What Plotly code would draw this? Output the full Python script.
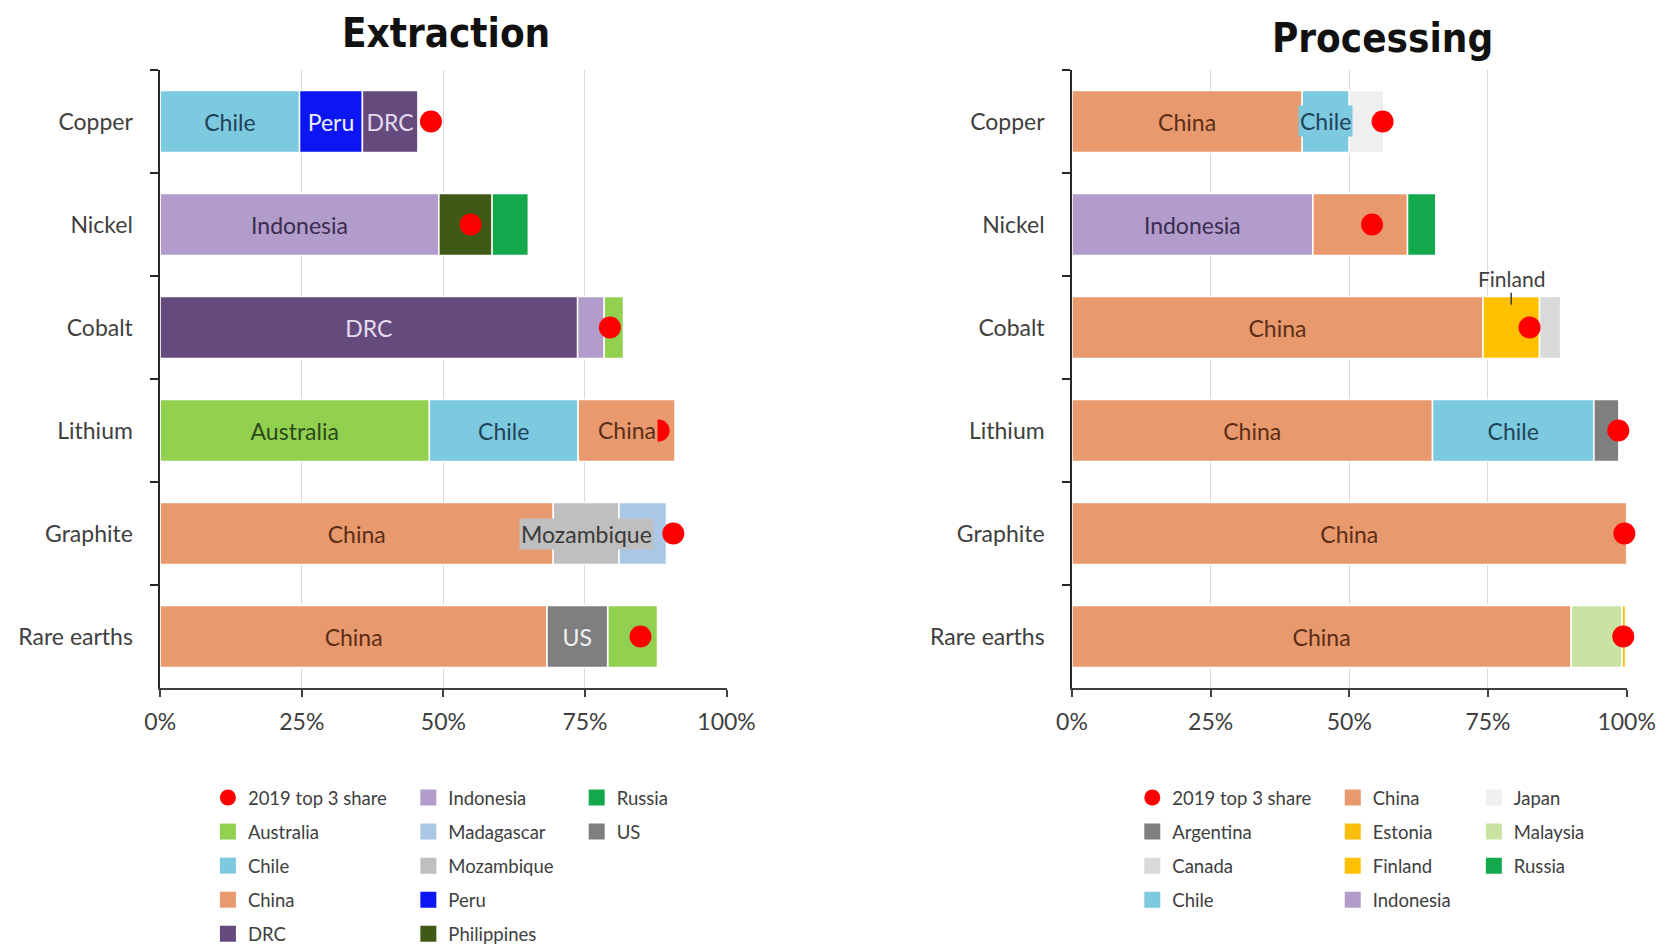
import plotly.graph_objects as go

# ---------------- data ----------------
minerals = ["Copper", "Nickel", "Cobalt", "Lithium", "Graphite", "Rare earths"]

ext_countries = [["Chile", "Peru", "DRC"],
                 ["Indonesia", "Philippines", "Russia"],
                 ["DRC", "Indonesia", "Australia"],
                 ["Australia", "Chile", "China"],
                 ["China", "Mozambique", "Madagascar"],
                 ["China", "US", "Australia"]]
ext_shares = [[24.6, 11.1, 9.8],
              [49.2, 9.4, 6.4],
              [73.7, 4.7, 3.4],
              [47.5, 26.3, 17.1],
              [69.4, 11.6, 8.4],
              [68.3, 10.7, 8.8]]
# 1 = label in bar, 2 = label box over bar, 3 = label above bar, 0 = none
ext_labelled = [[1, 1, 1], [1, 0, 0], [1, 0, 0], [1, 1, 2], [1, 2, 0], [1, 1, 0]]
ext_top3_2019 = [47.8, 54.8, 79.4, 88.0, 90.6, 84.8]

proc_countries = [["China", "Chile", "Japan"],
                  ["Indonesia", "China", "Russia"],
                  ["China", "Finland", "Canada"],
                  ["China", "Chile", "Argentina"],
                  ["China"],
                  ["China", "Malaysia", "Estonia"]]
proc_shares = [[41.5, 8.5, 6.2],
               [43.4, 17.1, 5.1],
               [74.1, 10.2, 3.8],
               [65.0, 29.1, 4.5],
               [100.0],
               [90.0, 9.2, 0.6]]
proc_labelled = [[1, 2, 0], [1, 0, 0], [1, 3, 0], [1, 1, 0], [1], [1, 0, 0]]
proc_top3_2019 = [56.0, 54.1, 82.5, 98.5, 99.6, 99.4]

x_ticks = [0, 25, 50, 75, 100]
x_ticktext = ["0%", "25%", "50%", "75%", "100%"]
dot_name = "2019 top 3 share"
titles = ["Extraction", "Processing"]

# ---------------- styles ----------------
colors = {"Chile": "#7dc9df", "Peru": "#0b16f2", "DRC": "#644a7d", "Indonesia": "#b19ccb",
          "Philippines": "#3e5a16", "Russia": "#13a84b", "Australia": "#92d050",
          "China": "#e8996d", "Mozambique": "#bfbfbf", "Madagascar": "#aac7e6",
          "US": "#7f7f7f", "Japan": "#efefef", "Argentina": "#7f7f7f", "Canada": "#d9d9d9",
          "Estonia": "#f9bd0c", "Finland": "#ffc000", "Malaysia": "#c8e3a2"}
text_colors = {"Chile": "#1f4457", "Peru": "#eef0ff", "DRC": "#e4dcee", "Indonesia": "#3b2d4f",
               "Australia": "#2c4a1a", "China": "#5c2e18", "US": "#f2f2f2",
               "Mozambique": "#3a3a3a", "Finland": "#404040"}
FONT = "Lato, 'Noto Sans', sans-serif"
TITLE_FONT = "'Liberation Sans Narrow', 'DejaVu Sans Condensed', sans-serif"
W, H = 1670, 945
TXT = 23

fig = go.Figure()
annotations = []


def add_panel(countries, shares, labelled, top3, xa, ya, legends, prefix, rows):
    seg = {}
    for mi, (m, cs, ss, ls) in enumerate(zip(minerals, countries, shares, labelled)):
        start = 0.0
        for c, s, l in zip(cs, ss, ls):
            d = seg.setdefault(c, {"y": [], "x": [], "base": [], "text": []})
            d["y"].append(m)
            d["x"].append(s)
            d["base"].append(start)
            d["text"].append(c if l == 1 else "")
            if l == 2:
                annotations.append(dict(x=start + s / 2, y=m, xref=xa, yref=ya, text=c,
                                        showarrow=False, bgcolor=colors[c], borderpad=1,
                                        xanchor="center", yanchor="middle",
                                        font=dict(family=FONT, size=TXT, color=text_colors.get(c, "#333"))))
            if l == 3:
                annotations.append(dict(x=start + s / 2, y=mi - 0.22, xref=xa, yref=ya, text=c,
                                        showarrow=True, arrowhead=0, arrowwidth=1.5,
                                        arrowcolor="#404040", ax=0, ay=-12,
                                        xanchor="center", yanchor="bottom",
                                        font=dict(family=FONT, size=21, color="#404040")))
            start += s
    for c, d in seg.items():
        fig.add_trace(go.Bar(
            orientation="h", y=d["y"], x=d["x"], base=d["base"], text=d["text"],
            textposition="inside", insidetextanchor="middle", textangle=0,
            textfont=dict(family=FONT, size=TXT, color=text_colors.get(c, "#333")),
            marker=dict(color=colors[c], line=dict(color="white", width=1.5)),
            width=0.6, xaxis=xa, yaxis=ya, showlegend=False, name=c, hoverinfo="x+name"))
    # dots
    fig.add_trace(go.Scatter(
        x=top3, y=minerals, mode="markers", name=dot_name, cliponaxis=False,
        marker=dict(color="#ff0000", size=22), xaxis=xa, yaxis=ya,
        legend=legends[0], legendgroup=prefix + "dot", legendrank=1, showlegend=True))
    # legend entries (alphabetical, column by column)
    names = sorted(seg.keys())
    items = [dot_name] + names
    for i, c in enumerate(items):
        if i == 0:
            continue
        fig.add_trace(go.Scatter(
            x=[None], y=[None], mode="markers", name=c,
            marker=dict(symbol="square", size=16, color=colors[c]),
            xaxis=xa, yaxis=ya, legend=legends[i // rows],
            legendgroup=prefix + c, legendrank=i + 1, showlegend=True))


add_panel(ext_countries, ext_shares, ext_labelled, ext_top3_2019, "x", "y",
          ["legend", "legend2", "legend3"], "ext_", 5)
add_panel(proc_countries, proc_shares, proc_labelled, proc_top3_2019, "x2", "y2",
          ["legend4", "legend5", "legend6"], "proc_", 4)

# titles
annotations.append(dict(x=434 / W, y=1.0, xref="paper", yref="paper", text=titles[0],
                        showarrow=False, xanchor="center", yanchor="top",
                        font=dict(family=TITLE_FONT, size=40, color="#111", weight=700)))
annotations.append(dict(x=1396 / W, y=1 - 5 / H, xref="paper", yref="paper", text=titles[1],
                        showarrow=False, xanchor="center", yanchor="top",
                        font=dict(family=TITLE_FONT, size=40, color="#111", weight=700)))

ydom = [1 - 680 / H, 1 - 62 / H]


def xaxis_style(dom, anchor):
    return dict(domain=dom, range=[0, 100], tickmode="array", tickvals=x_ticks, ticktext=x_ticktext,
                showgrid=True, gridcolor="#d9d9d9", gridwidth=1, zeroline=False,
                showline=True, linecolor="#404040", linewidth=1.5,
                ticks="outside", ticklen=7, tickcolor="#404040", tickwidth=1.5,
                tickfont=dict(family=FONT, size=TXT, color="#404040"),
                ticklabelstandoff=6, anchor=anchor, fixedrange=True)


def yaxis_style(anchor):
    return dict(domain=ydom, type="category", categoryorder="array", categoryarray=minerals,
                range=[5.5, -0.5], tickson="boundaries", ticks="outside", ticklen=8,
                tickcolor="#262626", tickwidth=1.5, showline=True, linecolor="#262626",
                linewidth=1.5, showgrid=False, zeroline=False,
                tickfont=dict(family=FONT, size=TXT, color="#404040"),
                ticklabelstandoff=21, anchor=anchor, fixedrange=True)


def legend_style(xpx, ypx):
    return dict(x=xpx / W, y=1 - ypx / H, xanchor="left", yanchor="top",
                orientation="v", bgcolor="rgba(0,0,0,0)", borderwidth=0,
                tracegroupgap=7, font=dict(family=FONT, size=18.5, color="#404040"),
                itemclick=False, itemdoubleclick=False)


LEG_TOP = 771
fig.update_layout(
    width=W, height=H, margin=dict(l=0, r=0, t=0, b=0),
    paper_bgcolor="white", plot_bgcolor="white",
    barmode="overlay", showlegend=True,
    uniformtext=dict(mode="show", minsize=TXT),
    xaxis=xaxis_style([140 / W, 722 / W], "y"),
    yaxis=yaxis_style("x"),
    xaxis2=xaxis_style([1077 / W, 1647 / W], "y2"),
    yaxis2=yaxis_style("x2"),
    legend=legend_style(189, LEG_TOP),
    legend2=legend_style(395, LEG_TOP),
    legend3=legend_style(568, LEG_TOP),
    legend4=legend_style(1139, LEG_TOP),
    legend5=legend_style(1345, LEG_TOP),
    legend6=legend_style(1490, LEG_TOP),
    annotations=annotations,
)

fig.write_html("out.html")
